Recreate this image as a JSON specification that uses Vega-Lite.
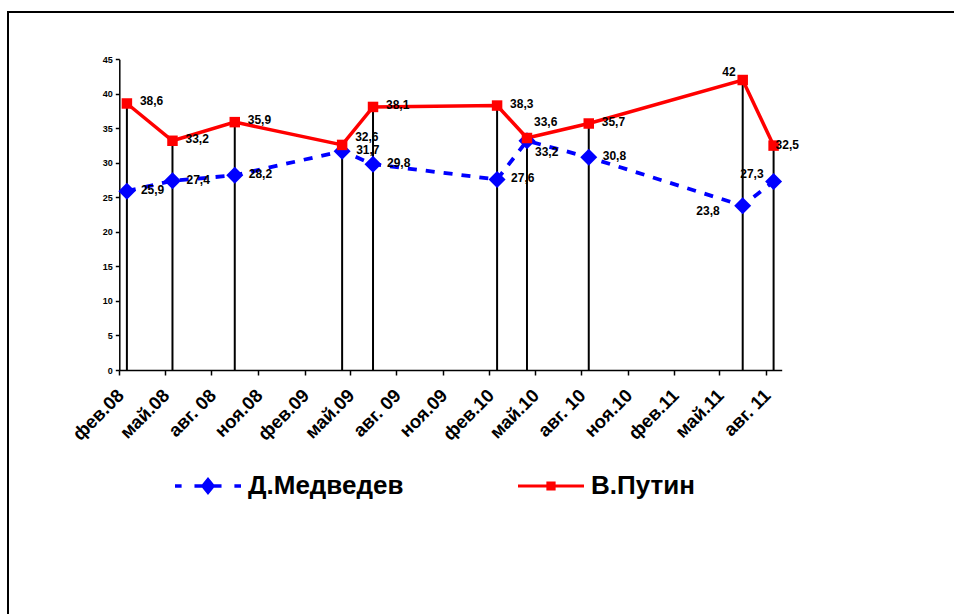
{
  "$schema": "https://vega.github.io/schema/vega-lite/v6.json",
  "width": 960,
  "height": 620,
  "autosize": {"type": "none"},
  "padding": {"left": 8, "top": 12, "right": 0, "bottom": 0},
  "background": "white",
  "config": {
    "view": {"stroke": "black", "strokeWidth": 2},
    "locale": {"number": {"decimal": ",", "thousands": " ", "grouping": [3], "currency": ["", ""]}},
    "axis": {"domainColor": "black", "domainWidth": 1.5, "tickColor": "black", "tickWidth": 1.5, "labelColor": "black", "labelFont": "Liberation Sans", "labelFontWeight": "bold", "grid": false, "title": null}
  },
  "data": {
    "values": [
      {"date": "2008-02-16", "series": "В.Путин", "value": 38.6},
      {"date": "2008-05-16", "series": "В.Путин", "value": 33.2},
      {"date": "2008-09-16", "series": "В.Путин", "value": 35.9},
      {"date": "2009-04-16", "series": "В.Путин", "value": 32.6},
      {"date": "2009-06-16", "series": "В.Путин", "value": 38.1},
      {"date": "2010-02-16", "series": "В.Путин", "value": 38.3},
      {"date": "2010-04-16", "series": "В.Путин", "value": 33.6},
      {"date": "2010-08-16", "series": "В.Путин", "value": 35.7},
      {"date": "2011-06-16", "series": "В.Путин", "value": 42},
      {"date": "2011-08-16", "series": "В.Путин", "value": 32.5},
      {"date": "2008-02-16", "series": "Д.Медведев", "value": 25.9},
      {"date": "2008-05-16", "series": "Д.Медведев", "value": 27.4},
      {"date": "2008-09-16", "series": "Д.Медведев", "value": 28.2},
      {"date": "2009-04-16", "series": "Д.Медведев", "value": 31.7},
      {"date": "2009-06-16", "series": "Д.Медведев", "value": 29.8},
      {"date": "2010-02-16", "series": "Д.Медведев", "value": 27.6},
      {"date": "2010-04-16", "series": "Д.Медведев", "value": 33.2},
      {"date": "2010-08-16", "series": "Д.Медведев", "value": 30.8},
      {"date": "2011-06-16", "series": "Д.Медведев", "value": 23.8},
      {"date": "2011-08-16", "series": "Д.Медведев", "value": 27.3}
    ]
  },
  "encoding": {
    "x": {
      "field": "date",
      "type": "temporal",
      "scale": {
        "domain": [{"year": 2008, "month": 2, "date": 1}, {"year": 2011, "month": 9, "date": 1}],
        "range": [111.3, 773.7],
        "nice": false
      },
      "axis": {
        "offset": -262,
        "values": [
          {"year": 2008, "month": 2, "date": 1}, {"year": 2008, "month": 5, "date": 1}, {"year": 2008, "month": 8, "date": 1}, {"year": 2008, "month": 11, "date": 1},
          {"year": 2009, "month": 2, "date": 1}, {"year": 2009, "month": 5, "date": 1}, {"year": 2009, "month": 8, "date": 1}, {"year": 2009, "month": 11, "date": 1},
          {"year": 2010, "month": 2, "date": 1}, {"year": 2010, "month": 5, "date": 1}, {"year": 2010, "month": 8, "date": 1}, {"year": 2010, "month": 11, "date": 1},
          {"year": 2011, "month": 2, "date": 1}, {"year": 2011, "month": 5, "date": 1}, {"year": 2011, "month": 8, "date": 1}
        ],
        "labelExpr": "['янв','фев','мар','апр','май','июн','июл','авг','сен','окт','ноя','дек'][month(datum.value)] + (month(datum.value) == 7 ? '. ' : '.') + timeFormat(datum.value, '%y')",
        "labelAngle": -45,
        "labelAlign": "right",
        "labelBaseline": "middle",
        "labelFontSize": 18.5,
        "labelPadding": 17,
        "labelOffset": 1,
        "tickSize": 5,
        "labelOverlap": false,
        "labelBound": false
      }
    },
    "y": {
      "field": "value",
      "type": "quantitative",
      "scale": {"domain": [0, 45], "range": [358, 47.3], "nice": false, "zero": true},
      "axis": {"offset": -111.3, "values": [0, 5, 10, 15, 20, 25, 30, 35, 40, 45], "labelFontSize": 9, "tickSize": 4, "labelPadding": 3}
    }
  },
  "layer": [
    {
      "transform": [{"filter": "datum.series === 'В.Путин'"}],
      "mark": {"type": "rule", "color": "black", "strokeWidth": 2},
      "encoding": {"y2": {"datum": 0}}
    },
    {
      "transform": [{"filter": "datum.series === 'Д.Медведев'"}],
      "mark": {"type": "line", "strokeWidth": 3.8, "color": "#0000FF", "strokeDash": [9, 9]},
      "encoding": {}
    },
    {
      "transform": [{"filter": "datum.series === 'В.Путин'"}],
      "mark": {"type": "line", "strokeWidth": 3.5, "color": "#FF0000"},
      "encoding": {}
    },
    {
      "transform": [{"filter": "datum.series === 'Д.Медведев'"}],
      "mark": {"type": "point", "filled": true, "opacity": 1, "strokeWidth": 0, "shape": "diamond", "size": 289, "color": "#0000FF"},
      "encoding": {}
    },
    {
      "transform": [{"filter": "datum.series === 'В.Путин'"}],
      "mark": {"type": "point", "filled": true, "opacity": 1, "strokeWidth": 0, "shape": "square", "size": 110, "color": "#FF0000"},
      "encoding": {}
    },
    {
      "mark": {"type": "point", "filled": true, "opacity": 0, "strokeWidth": 0, "size": 4356},
      "encoding": {
        "color": {
          "field": "series",
          "type": "nominal",
          "scale": {"domain": ["Д.Медведев", "В.Путин"], "range": ["#0000FF", "#FF0000"]},
          "legend": {
            "orient": "none",
            "legendX": 167,
            "legendY": 441,
            "direction": "horizontal",
            "title": null,
            "padding": 0,
            "symbolSize": 4356,
            "symbolOpacity": 1,
            "symbolStrokeWidth": 0,
            "labelFont": "Liberation Sans",
            "labelFontSize": 26,
            "labelFontWeight": "bold",
            "labelColor": "black",
            "labelOffset": 7,
            "columnPadding": 114
          }
        },
        "shape": {
          "field": "series",
          "type": "nominal",
          "scale": {
            "domain": ["Д.Медведев", "В.Путин"],
            "range": [
              "M-1,-0.056H-0.8V0.056H-1Z M-0.41,-0.056H-0.16V0.056H-0.41Z M0,-0.27L0.22,0L0,0.27L-0.22,0Z M0.16,-0.056H0.41V0.056H0.16Z M0.8,-0.056H1V0.056H0.8Z",
              "M-1,-0.045H1V0.045H-1Z M-0.14,-0.14H0.14V0.14H-0.14Z"
            ]
          },
          "legend": {
            "orient": "none",
            "legendX": 167,
            "legendY": 441,
            "direction": "horizontal",
            "title": null,
            "padding": 0,
            "symbolSize": 4356,
            "symbolOpacity": 1,
            "symbolStrokeWidth": 0,
            "labelFont": "Liberation Sans",
            "labelFontSize": 26,
            "labelFontWeight": "bold",
            "labelColor": "black",
            "labelOffset": 7,
            "columnPadding": 114
          }
        }
      }
    },
    {
      "transform": [{"filter": "datum.series === 'В.Путин' && datum.value != 32.6 && datum.value != 33.6 && datum.value != 42 && datum.value != 32.5"}],
      "mark": {"type": "text", "font": "Liberation Sans", "fontSize": 12, "fontWeight": "bold", "color": "black", "align": "left", "baseline": "middle", "dx": 13, "dy": -2},
      "encoding": {"text": {"field": "value", "type": "quantitative", "format": ".1~f"}}
    },
    {
      "transform": [{"filter": "datum.series === 'В.Путин' && datum.value == 32.6"}],
      "mark": {"type": "text", "font": "Liberation Sans", "fontSize": 12, "fontWeight": "bold", "color": "black", "align": "left", "baseline": "middle", "dx": 13, "dy": -8},
      "encoding": {"text": {"field": "value", "type": "quantitative", "format": ".1~f"}}
    },
    {
      "transform": [{"filter": "datum.series === 'В.Путин' && datum.value == 33.6"}],
      "mark": {"type": "text", "font": "Liberation Sans", "fontSize": 12, "fontWeight": "bold", "color": "black", "align": "left", "baseline": "middle", "dx": 7, "dy": -16},
      "encoding": {"text": {"field": "value", "type": "quantitative", "format": ".1~f"}}
    },
    {
      "transform": [{"filter": "datum.series === 'В.Путин' && datum.value == 42"}],
      "mark": {"type": "text", "font": "Liberation Sans", "fontSize": 12, "fontWeight": "bold", "color": "black", "align": "right", "baseline": "middle", "dx": -7, "dy": -8},
      "encoding": {"text": {"field": "value", "type": "quantitative", "format": ".1~f"}}
    },
    {
      "transform": [{"filter": "datum.series === 'В.Путин' && datum.value == 32.5"}],
      "mark": {"type": "text", "font": "Liberation Sans", "fontSize": 12, "fontWeight": "bold", "color": "black", "align": "left", "baseline": "middle", "dx": 2, "dy": -1},
      "encoding": {"text": {"field": "value", "type": "quantitative", "format": ".1~f"}}
    },
    {
      "transform": [{"filter": "datum.series === 'Д.Медведев' && datum.value != 33.2 && datum.value != 23.8 && datum.value != 27.3"}],
      "mark": {"type": "text", "font": "Liberation Sans", "fontSize": 12, "fontWeight": "bold", "color": "black", "align": "left", "baseline": "middle", "dx": 14, "dy": -1},
      "encoding": {"text": {"field": "value", "type": "quantitative", "format": ".1~f"}}
    },
    {
      "transform": [{"filter": "datum.series === 'Д.Медведев' && datum.value == 33.2"}],
      "mark": {"type": "text", "font": "Liberation Sans", "fontSize": 12, "fontWeight": "bold", "color": "black", "align": "left", "baseline": "middle", "dx": 8, "dy": 11},
      "encoding": {"text": {"field": "value", "type": "quantitative", "format": ".1~f"}}
    },
    {
      "transform": [{"filter": "datum.series === 'Д.Медведев' && datum.value == 23.8"}],
      "mark": {"type": "text", "font": "Liberation Sans", "fontSize": 12, "fontWeight": "bold", "color": "black", "align": "right", "baseline": "middle", "dx": -23, "dy": 5},
      "encoding": {"text": {"field": "value", "type": "quantitative", "format": ".1~f"}}
    },
    {
      "transform": [{"filter": "datum.series === 'Д.Медведев' && datum.value == 27.3"}],
      "mark": {"type": "text", "font": "Liberation Sans", "fontSize": 12, "fontWeight": "bold", "color": "black", "align": "right", "baseline": "middle", "dx": -10, "dy": -8},
      "encoding": {"text": {"field": "value", "type": "quantitative", "format": ".1~f"}}
    }
  ]
}
